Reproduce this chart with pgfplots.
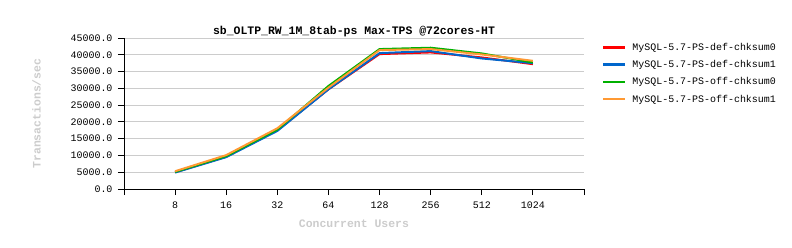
\documentclass[border=0pt]{standalone}
\usepackage{pgfplots}
\pgfplotsset{compat=1.18}
\usepackage{fontspec}
\setmainfont{Liberation Mono}
\setmonofont{Liberation Mono}
\definecolor{cred}{HTML}{FF0000}
\definecolor{cblue}{HTML}{0066CC}
\definecolor{cgreen}{HTML}{00B000}
\definecolor{corange}{HTML}{FF9933}
\definecolor{lgray}{HTML}{CCCCCC}
\begin{document}
\begin{tikzpicture}
\begin{axis}[
  scale only axis,
  width=460bp, height=151bp,
  at={(124bp,59bp)}, anchor=south west,
  xmin=0, xmax=9, ymin=0, ymax=45000,
  xtick={1,2,3,4,5,6,7,8},
  xticklabels={8,16,32,64,128,256,512,1024},
  extra x ticks={0,9}, extra x tick labels={},
  extra x tick style={grid=none},
  ytick={0,5000,...,45000},
  axis x line*=bottom, axis y line*=left,
  axis line style={black, line width=0.8pt},
  tick style={black, line width=0.8pt},
  tick align=outside,
  major tick length=6bp,
  ymajorgrids, grid style={lgray, line width=0.8pt},
  yticklabel={\pgfmathprintnumber[fixed, fixed zerofill, precision=1, 1000 sep={}, assume math mode=true]{\tick}},
  scaled y ticks=false,
  tick label style={font=\fontsize{10}{12}\selectfont},
  yticklabel style={xshift=-2bp},
  xticklabel style={yshift=-3bp},
  title={\textbf{sb\_OLTP\_RW\_1M\_8tab-ps Max-TPS @72cores-HT}},
  title style={font=\fontsize{11.5}{13}\selectfont, at={(0.5,1)}, yshift=-8bp},
  xlabel={\textbf{Concurrent Users}},
  ylabel={\textbf{Transactions/sec}},
  label style={font=\fontsize{11.5}{13}\selectfont, text=lgray},
  xlabel style={yshift=7bp},
  ylabel style={yshift=23bp},
  legend style={at={(1,1)}, anchor=north west, xshift=15bp, yshift=-1bp, draw=none, fill=none,
    font=\fontsize{10}{12}\selectfont, row sep=4.5bp},
  legend cell align=left,
  legend image code/.code={\draw[#1, line width=2.5pt] (0bp,0bp) -- (22bp,0bp); \path (26bp,0bp);},
  every axis plot/.append style={line width=2pt, mark=none},
]
\addplot[cred] coordinates {(1,5000) (2,9600) (3,17500) (4,29700) (5,40200) (6,40700) (7,39200) (8,37200)};
\addlegendentry{MySQL-5.7-PS-def-chksum0}
\addplot[cblue] coordinates {(1,4900) (2,9500) (3,17300) (4,29700) (5,40500) (6,41100) (7,38900) (8,37500)};
\addlegendentry{MySQL-5.7-PS-def-chksum1}
\addplot[cgreen] coordinates {(1,5100) (2,9800) (3,17700) (4,30700) (5,41700) (6,42100) (7,40400) (8,37700)};
\addlegendentry{MySQL-5.7-PS-off-chksum0}
\addplot[corange] coordinates {(1,5300) (2,10100) (3,18100) (4,30200) (5,41400) (6,41700) (7,40100) (8,38200)};
\addlegendentry{MySQL-5.7-PS-off-chksum1}
\end{axis}
\pgfresetboundingbox
\useasboundingbox (0,0) rectangle (792bp,248bp);
\end{tikzpicture}
\end{document}
